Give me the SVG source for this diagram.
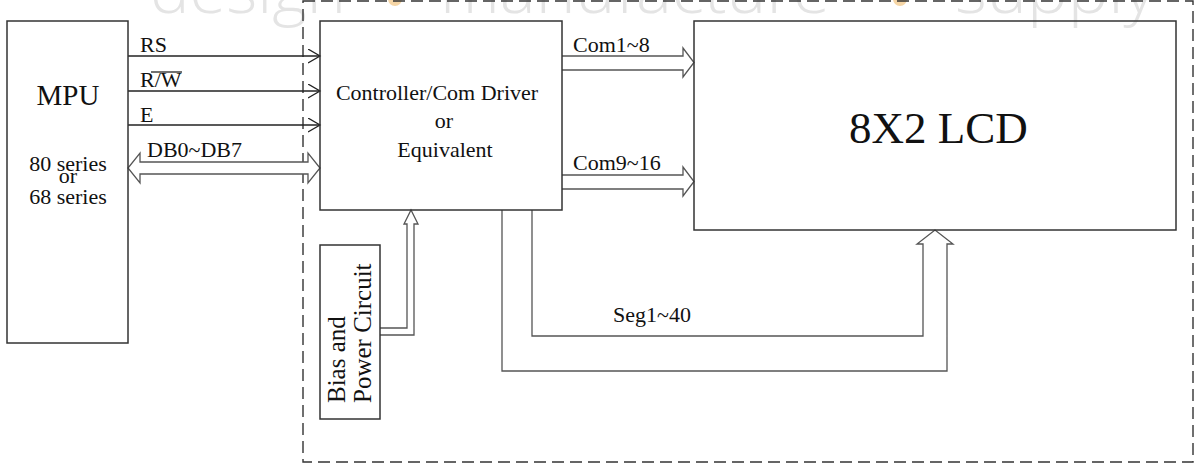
<svg xmlns="http://www.w3.org/2000/svg" width="1200" height="472" viewBox="0 0 1200 472">
  <style>
    .box{fill:none;stroke:#333;stroke-width:1.5}
    .t{font-family:"Liberation Serif","Times New Roman",serif;fill:#111}
    .wire{fill:none;stroke:#222;stroke-width:1.3}
    .bus{fill:#fff;stroke:#555;stroke-width:1.3}
    .dash{fill:none;stroke:#333;stroke-width:1.4;stroke-dasharray:12 6}
    .wm{font-family:"Open Sans",sans-serif;font-weight:300;fill:#e4e4e4;font-size:64px}
  </style>
  <defs>
    <marker id="chev" viewBox="0 0 14 16" markerWidth="14" markerHeight="16" refX="12" refY="7" orient="auto" markerUnits="userSpaceOnUse">
      <path d="M0,0 L12,7 L0,14" fill="none" stroke="#222" stroke-width="1.3"/>
    </marker>
  </defs>
  <rect width="1200" height="472" fill="#fff"/>

  <g id="watermark">
    <text class="wm" x="150" y="13" textLength="196" lengthAdjust="spacingAndGlyphs">design</text>
    <text class="wm" x="440" y="13" textLength="390" lengthAdjust="spacingAndGlyphs">manufacture</text>
    <text class="wm" x="955" y="13" textLength="200" lengthAdjust="spacingAndGlyphs">supply</text>
    <circle cx="395" cy="-1" r="7" fill="#f6d6a6"/>
    <circle cx="900" cy="-1" r="7" fill="#f6d6a6"/>
  </g>

  <g id="boundary">
    <rect class="dash" x="303" y="1" width="890" height="461"/>
  </g>

  <g id="connectors">
    <line class="wire" x1="128" y1="56" x2="320" y2="56" marker-end="url(#chev)"/>
    <line class="wire" x1="128" y1="91" x2="320" y2="91" marker-end="url(#chev)"/>
    <line class="wire" x1="128" y1="125" x2="320" y2="125" marker-end="url(#chev)"/>
    <path class="bus" d="M140,162 L308,162 L308,153 L320,168 L308,183 L308,174 L140,174 L140,183 L128,168 L140,153 Z"/>
    <path class="bus" d="M562,56 L683,56 L683,48 L694,62.5 L683,77 L683,70 L562,70"/>
    <path class="bus" d="M562,175 L683,175 L683,167 L694,181.5 L683,196 L683,189 L562,189"/>
    <path class="bus" fill="none" style="fill:none" d="M532,210 L532,336 L923,336 L923,244 L917,244 L935,230 L953,244 L947,244 L947,371 L502,371 L502,210"/>
    <path class="bus" style="fill:none" d="M380,328 L407,328 L407,224 L404,224 L411,210 L418,224 L414,224 L414,335 L380,335"/>
    <text class="t" x="140" y="52" font-size="22">RS</text>
    <text class="t" x="140" y="87" font-size="22">R/W</text>
    <line x1="151" y1="72" x2="182" y2="72" stroke="#111" stroke-width="1.2"/>
    <text class="t" x="140" y="122" font-size="22">E</text>
    <text class="t" x="147" y="157" font-size="22">DB0~DB7</text>
    <text class="t" x="573" y="52" font-size="22">Com1~8</text>
    <text class="t" x="573" y="170" font-size="22">Com9~16</text>
    <text class="t" x="613" y="322" font-size="22">Seg1~40</text>
  </g>

  <g id="mpu">
    <rect class="box" x="7" y="21" width="121" height="322"/>
    <text class="t" x="68" y="105" font-size="29" text-anchor="middle">MPU</text>
    <text class="t" x="68" y="171" font-size="22" text-anchor="middle">80 series</text>
    <text class="t" x="68" y="183" font-size="22" text-anchor="middle">or</text>
    <text class="t" x="68" y="204" font-size="22" text-anchor="middle">68 series</text>
  </g>

  <g id="controller">
    <rect class="box" x="320" y="21" width="242" height="189"/>
    <text class="t" x="437" y="100" font-size="22" text-anchor="middle">Controller/Com Driver</text>
    <text class="t" x="444" y="128" font-size="22" text-anchor="middle">or</text>
    <text class="t" x="445" y="157" font-size="22" text-anchor="middle">Equivalent</text>
  </g>

  <g id="lcd">
    <rect class="box" x="694" y="21" width="482" height="209"/>
    <text class="t" x="849" y="143" font-size="45">8X2 LCD</text>
  </g>

  <g id="bias">
    <rect class="box" x="320" y="245" width="60" height="174"/>
    <text class="t" font-size="25" transform="translate(345,403) rotate(-90)">Bias and</text>
    <text class="t" font-size="25" transform="translate(371,403) rotate(-90)">Power Circuit</text>
  </g>
</svg>
